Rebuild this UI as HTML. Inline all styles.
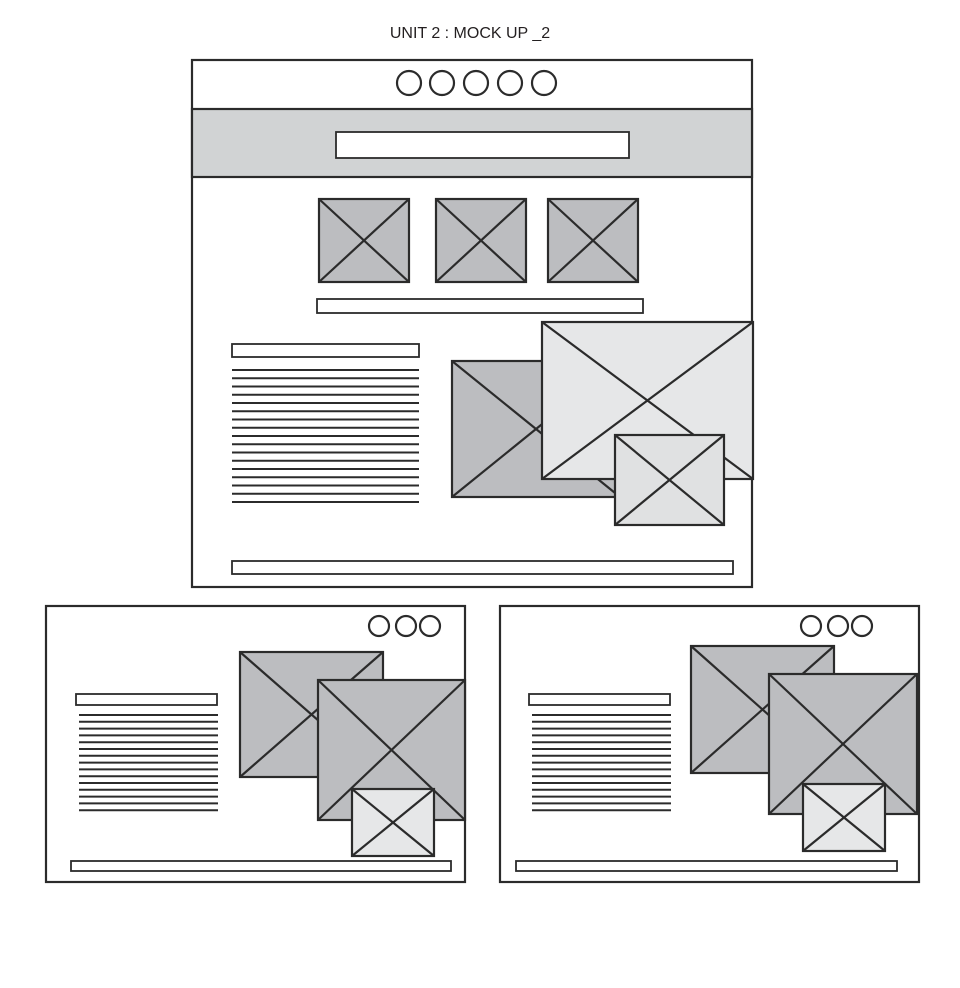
<!DOCTYPE html>
<html><head><meta charset="utf-8"><style>
html,body{margin:0;padding:0;background:#fff;width:960px;height:988px;overflow:hidden}
svg{display:block}
text{font-family:"Liberation Sans",sans-serif}
</style></head><body>
<svg width="960" height="988" viewBox="0 0 960 988" stroke="#2b2b2b" stroke-width="2.2" fill="none">
<text x="470" y="38" text-anchor="middle" font-size="16" fill="#231f20" stroke="none">UNIT 2 : MOCK UP _2</text>
<g id="main"></g>
<g id="left"></g>
<g id="right"></g>
</svg>
<script>
const NS='http://www.w3.org/2000/svg';
function el(p,tag,a){const e=document.createElementNS(NS,tag);for(const k in a)e.setAttribute(k,a[k]);p.appendChild(e);return e;}
function img(p,x,y,w,h,fill,name){
  const g=el(p,'g',{});
  
  
  el(g,'rect',{x,y,width:w,height:h,fill});
  el(g,'line',{x1:x,y1:y,x2:x+w,y2:y+h});
  el(g,'line',{x1:x+w,y1:y,x2:x,y2:y+h});
}
function bar(p,x,y,w,h,name){const r=el(p,'rect',{x,y,width:w,height:h,fill:'#fff','stroke-width':1.8});
  
  }
function circles(p,xs,y,r){xs.forEach(cx=>{const c=el(p,'circle',{cx,cy:y,r,fill:'#fff'});
  
  });}
function lines(p,x1,x2,y0,y1,step){for(let y=y0;y<=y1;y+=step){const l=el(p,'line',{x1,x2,y1:y,y2:y,'stroke-width':2});
  
  }}
const G='#bcbdc0',L='#e6e7e8';
const m=document.getElementById('main');
el(m,'rect',{x:192,y:60,width:560,height:527,fill:'#fff'});
el(m,'rect',{x:192,y:109,width:560,height:68,fill:'#d1d3d4'});
circles(m,[409,442,476,510,544],83,12);
const s=el(m,'rect',{x:336,y:132,width:293,height:26,fill:'#fff','stroke-width':1.8});


img(m,319,199,90,83,G,'thumb-image-1');
img(m,436,199,90,83,G,'thumb-image-2');
img(m,548,199,90,83,G,'thumb-image-3');
bar(m,317,299,326,14,'caption-bar');
bar(m,232,344,187,13,'text-heading-bar');
lines(m,232,419,370,503,8.25);
img(m,452,361,168,136,G,'back-image');
img(m,542,322,211,157,L,'feature-image');
img(m,615,435,109,90,'#e0e1e2','small-image');
bar(m,232,561,501,13,'footer-bar');
function tablet(p,ox,cx,b1,b2,sm,titleX,bot){
  el(p,'rect',{x:ox,y:606,width:419,height:276,fill:'#fff'});
  circles(p,cx,626,10);
  bar(p,titleX,694,141,11,'text-heading-bar');
  lines(p,titleX+3,titleX+142,715,816,6.8);
  img(p,b1[0],b1[1],b1[2],b1[3],G,'back-image');
  img(p,b2[0],b2[1],b2[2],b2[3],G,'feature-image');
  img(p,sm[0],sm[1],sm[2],sm[3],L,'small-image');
  bar(p,bot[0],861,bot[1],10,'footer-bar');
}
tablet(document.getElementById('left'),46,[379,406,430],[240,652,143,125],[318,680,147,140],[352,789,82,67],76,[71,380]);
tablet(document.getElementById('right'),500,[811,838,862],[691,646,143,127],[769,674,148,140],[803,784,82,67],529,[516,381]);
</script>
</body></html>
